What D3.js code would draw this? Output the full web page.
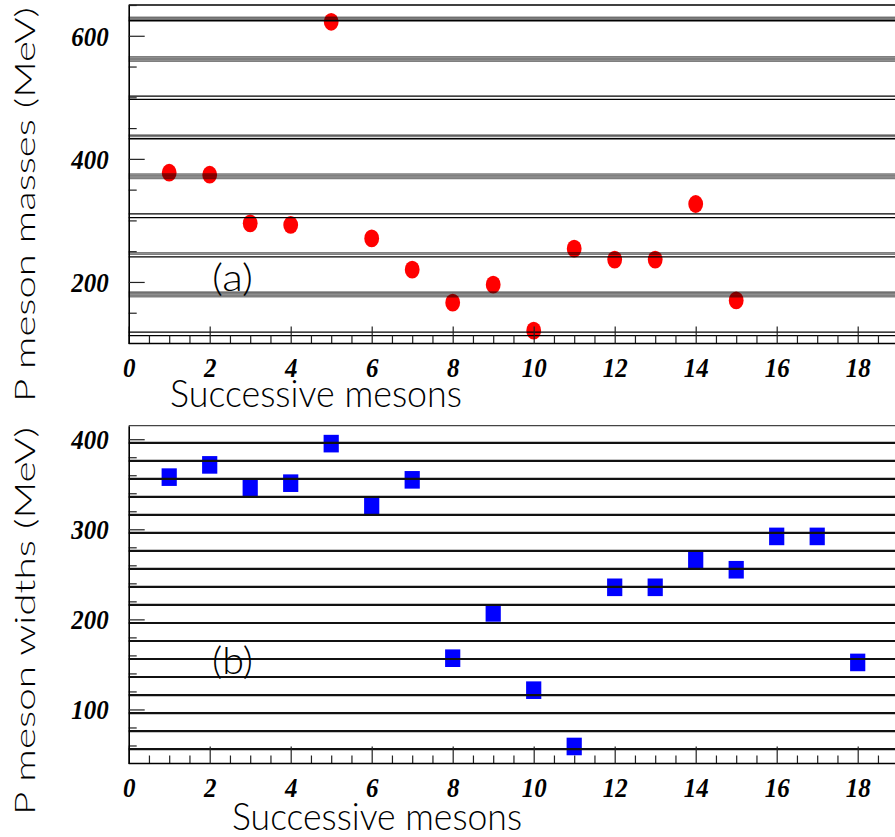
<!DOCTYPE html>
<html><head><meta charset="utf-8">
<script src="https://cdn.jsdelivr.net/npm/d3@7"></script>
<style>html,body{margin:0;padding:0;background:#fff;} svg{display:block;}</style>
</head><body>
<script>
// ---------- data ----------
const massMesons = [1,2,3,4,5,6,7,8,9,10,11,12,13,14,15];
const massValues = [377.5,374.3,295.2,292.6,622.7,270.8,220,166.4,195.6,120.9,254.1,236.3,236.3,326.7,170];
const widthMesons = [1,2,3,4,5,6,7,8,9,10,11,12,13,14,15,16,17,18];
const widthValues = [357.9,371.5,345.7,351.2,395.1,326.1,354.9,156.9,207.2,121.4,58.9,235.6,235.6,266.2,255.1,292.1,292.1,152.2];
const massLinesGray = [630,628,626, 566,563.5,561,558.5, 438.5,436.5, 375.5,373,370.5,368, 247.5,245, 183.5,181,178.5,176];
const massLinesBlack = [624.4, 502,496.6, 432.7, 310.5,304.4, 240.6, 118.5,112.8];
const widthLines = [56,76,96,116,136,156,176,196,216,236,256,276,296,316,336,356,376,396];
const xTicksMajor = [0,2,4,6,8,10,12,14,16,18];
const xTicksMinor = [0.5,1,1.5,2.5,3,3.5,4.5,5,5.5,6.5,7,7.5,8.5,9,9.5,10.5,11,11.5,12.5,13,13.5,14.5,15,15.5,16.5,17,17.5,18.5,19,19.5];
const massTicksMajor = [200,400,600];
const massTicksMinor = [150,250,300,350,450,500,550,650];
const widthTicksMajor = [100,200,300,400];
const widthTicksMinor = [60,80,120,140,160,180,220,240,260,280,320,340,360,380];
const xTitle = "Successive mesons";
const massTitle = "P meson masses (MeV)";
const widthTitle = "P meson widths (MeV)";

// ---------- layout ----------
const W = 895, H = 837;
const svg = d3.select("body").append("svg").attr("width", W).attr("height", H);
const x = d3.scaleLinear().domain([0, 20]).range([128.7, 938.7]);
const yTop = d3.scaleLinear().domain([100, 650]).range([343.5, 5]);
const yBot = d3.scaleLinear().domain([40, 415]).range([763.5, 425.7]);

const tickFont = "'Liberation Serif', 'Times New Roman', serif";
const titleFont = "Lato, 'DejaVu Sans', sans-serif";

function panel(y, yMaj, yMin, drawMarks, drawLines, topColor) {
  const g = svg.append("g");
  drawMarks(g);
  drawLines(g);
  g.append("line").attr("x1", x(0)).attr("x2", W).attr("y1", y.range()[1]).attr("y2", y.range()[1])
    .attr("stroke", topColor).attr("stroke-width", 1.3);
  const y0 = y.range()[0];
  const axMin = g.append("g").attr("transform", `translate(0,${y0})`)
    .call(d3.axisBottom(x).tickValues(xTicksMinor).tickSizeInner(-8).tickSizeOuter(0).tickFormat(""));
  axMin.select(".domain").remove();
  const axMaj = g.append("g").attr("transform", `translate(0,${y0})`)
    .call(d3.axisBottom(x).tickValues(xTicksMajor).tickSizeInner(-17).tickSizeOuter(0));
  axMaj.select(".domain").attr("stroke-width", 1.6).attr("d", `M${x(0)},0H${W}`);
  axMaj.selectAll("text").attr("y", 0).attr("dy", 0)
    .attr("transform", "translate(0,33.5) scale(1,1.12)")
    .attr("font-family", tickFont).attr("font-weight", "bold").attr("font-style", "italic")
    .attr("font-size", 25).attr("fill", "#000");
  const ayMin = g.append("g").attr("transform", `translate(${x(0)},0)`)
    .call(d3.axisLeft(y).tickValues(yMin).tickSizeInner(-8).tickSizeOuter(0).tickFormat(""));
  ayMin.select(".domain").remove();
  const ayMaj = g.append("g").attr("transform", `translate(${x(0)},0)`)
    .call(d3.axisLeft(y).tickValues(yMaj).tickSizeInner(-16).tickSizeOuter(0));
  ayMaj.select(".domain").attr("stroke-width", 1.6);
  ayMaj.selectAll("text").attr("x", -20).attr("dy", "0.34em")
    .attr("transform", "scale(1,1.12)")
    .attr("font-family", tickFont).attr("font-weight", "bold").attr("font-style", "italic")
    .attr("font-size", 25).attr("fill", "#000");
  g.selectAll(".tick line").attr("stroke", "#222").attr("stroke-width", 1.2);
  g.selectAll(".domain").attr("stroke", "#000");
  return g;
}

// top panel
panel(yTop, massTicksMajor, massTicksMinor,
  g => {
    g.selectAll("ellipse.pt").data(massMesons).join("ellipse").attr("class", "pt")
      .attr("cx", (d) => x(d)).attr("cy", (d, i) => yTop(massValues[i]))
      .attr("rx", 7.4).attr("ry", 8.9).attr("fill", "#ff0000");
  },
  g => {
    g.selectAll("line.gl").data(massLinesGray).join("line").attr("class", "gl")
      .attr("x1", x(0)).attr("x2", W).attr("y1", d => yTop(d)).attr("y2", d => yTop(d))
      .attr("stroke", "#000").attr("stroke-opacity", 0.5).attr("stroke-width", 1.6);
    g.selectAll("line.bl").data(massLinesBlack).join("line").attr("class", "bl")
      .attr("x1", x(0)).attr("x2", W).attr("y1", d => yTop(d)).attr("y2", d => yTop(d))
      .attr("stroke", "#000").attr("stroke-width", 1.3);
  }, "#000");

// bottom panel
panel(yBot, widthTicksMajor, widthTicksMinor,
  g => {
    g.selectAll("rect.pt").data(widthMesons).join("rect").attr("class", "pt")
      .attr("x", d => x(d) - 7.6).attr("y", (d, i) => yBot(widthValues[i]) - 8.8)
      .attr("width", 15.2).attr("height", 17.6).attr("fill", "#0000ff");
  },
  g => {
    g.selectAll("line.wl").data(widthLines).join("line").attr("class", "wl")
      .attr("x1", x(0)).attr("x2", W).attr("y1", d => yBot(d)).attr("y2", d => yBot(d))
      .attr("stroke", "#111").attr("stroke-width", 2.2);
  }, "#444");

// titles
function title(txt, tx, ty, size, len, rot) {
  svg.append("text").text(txt)
    .attr("transform", `translate(${tx},${ty})` + (rot ? " rotate(-90)" : ""))
    .attr("font-family", titleFont).attr("font-weight", 300).attr("font-size", size)
    .attr("textLength", len).attr("lengthAdjust", "spacingAndGlyphs").attr("fill", "#000");
}
title(xTitle, 170, 406.5, 37, 292, false);
title(xTitle, 232, 830, 37, 290, false);
title(massTitle, 35, 402, 28, 395, true);
title(widthTitle, 35, 815, 28, 388, true);
title("(a)", 212, 291, 37, 41, false);
title("(b)", 212, 674, 37, 41, false);
</script>
</body></html>
